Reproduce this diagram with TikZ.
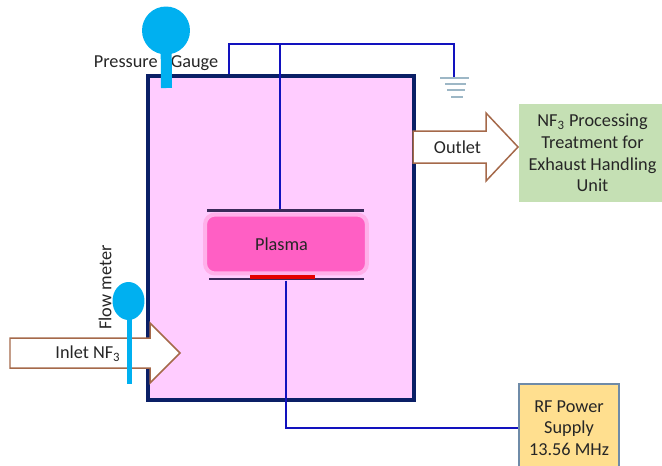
\documentclass[tikz,border=0pt]{standalone}
\usepackage{fontspec}
\setmainfont{Carlito}
\usetikzlibrary{shapes.geometric}
\definecolor{chamberfill}{HTML}{FFCCFF}
\definecolor{chamberline}{HTML}{0A1F66}
\definecolor{wireblue}{HTML}{1212BE}
\definecolor{gaugeblue}{HTML}{00B0F0}
\definecolor{plasmapink}{HTML}{FF5FC4}
\definecolor{plasmaglow}{HTML}{FFB0EA}
\definecolor{platedark}{HTML}{3B2A5A}
\definecolor{arrowbrown}{HTML}{A5694A}
\definecolor{unitgreen}{HTML}{C5E0B4}
\definecolor{unityellow}{HTML}{FFDF8F}
\definecolor{unitline}{HTML}{6F8BA8}
\definecolor{groundline}{HTML}{9DB7C6}
\definecolor{labeltext}{HTML}{262626}
\tikzset{
  label text/.style={text=labeltext,font=\fontsize{10.4}{12.6}\selectfont,align=center},
  wire/.style={draw=wireblue,line width=0.05cm},
  plate/.style={draw=none,fill=#1,rectangle,inner sep=0pt},
  block arrow/.style={draw=arrowbrown,fill=white,line width=0.03cm},
  stem/.style={draw=gaugeblue,line width=#1}
}
\begin{document}
\begin{tikzpicture}[x=0.02cm,y=-0.02cm]
\clip (0,0) rectangle (662,466);
\node[draw=chamberline,fill=chamberfill,line width=0.09cm,rectangle,minimum width=5.32cm,minimum height=6.48cm] (chamber) at (281,238) {};
% block arrows
\draw[block arrow] (10,338) -- (150,338) -- (150,323) -- (180,353) -- (150,383) -- (150,368) -- (10,368) -- cycle;
\draw[block arrow] (413,131) -- (486,131) -- (486,113) -- (518,147) -- (486,181) -- (486,163) -- (413,163) -- cycle;
\node[label text] (inlet) at (88,354) {Inlet NF\textsubscript{3}};
\node[label text] (outlet) at (457.5,147) {Outlet};
% plasma and electrodes
\node[draw=plasmaglow,line width=0.08cm,fill=plasmapink,rectangle,rounded corners=0.2cm,minimum width=3.24cm,minimum height=1.18cm,label text] (plasma) at (286,244) {Plasma\hspace{0.18cm}};
\node[plate=platedark,minimum width=3.14cm,minimum height=0.05cm] (topplate) at (285.5,210.5) {};
\node[plate=platedark,minimum width=3.10cm,minimum height=0.05cm] (lowerplate) at (286.5,279) {};
\node[plate=red!90!black,minimum width=1.30cm,minimum height=0.08cm] (electrode) at (282.5,276.5) {};
% wiring
\coordinate (tee) at (229,44);
\coordinate (feed) at (280,44);
\coordinate (groundtop) at (454,78);
\coordinate (rfcorner) at (286,428);
\node[draw=unitline,fill=unityellow,line width=0.04cm,rectangle,minimum width=2.0cm,minimum height=1.76cm,label text] (rfsupply) at (569,428) {RF Power\\[-0.2pt]Supply\\[-0.2pt]13.56 MHz};
\draw[wire] (chamber.north -| tee) -- (tee) -- (groundtop |- tee) -- (groundtop);
\draw[wire] (feed) -- (feed |- topplate.north);
\draw[wire] (rfcorner |- lowerplate.south) -- (rfcorner) -- (rfsupply.west);
\foreach \yy/\xa/\xb in {78/440/469,84/445/466,90/447/465,97/451/463}
  \draw[draw=groundline,line width=0.03cm] (\xa,\yy) -- (\xb,\yy);
% gauges
\node[label text] (pressure) at (156,63) {Pressure\hspace{0.72em}Gauge};
\node[draw=none,fill=gaugeblue,circle,minimum size=0.96cm,inner sep=0pt] (gauge) at (166,30.5) {};
\coordinate (gaugeend) at (166.5,88);
\draw[stem=0.22cm] (gauge.center) -- (gaugeend);
\node[label text,rotate=90] (flowlabel) at (105,287.5) {Flow meter};
\coordinate (flowend) at (129.5,384);
\draw[stem=0.1cm] (129.5,301) -- (flowend);
\node[draw=none,fill=gaugeblue,ellipse,minimum width=0.64cm,minimum height=0.76cm,inner sep=0pt] (flowmeter) at (128.5,301) {};
% treatment unit
\node[fill=unitgreen,rectangle,minimum width=2.94cm,minimum height=1.96cm,label text] (unit) at (592.5,153) {NF\textsubscript{3} Processing\\[-0.2pt]Treatment for\\[-0.2pt]Exhaust Handling\\[-0.2pt]Unit};
\end{tikzpicture}
\end{document}
